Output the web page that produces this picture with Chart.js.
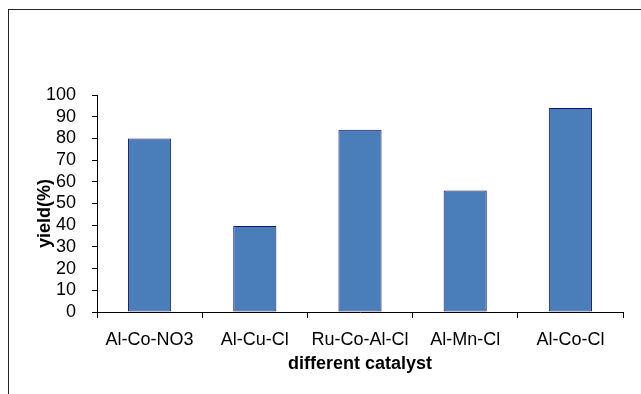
<!DOCTYPE html>
<html>
<head>
<meta charset="utf-8">
<script src="https://cdn.jsdelivr.net/npm/chart.js@4"></script>
<style>
  html, body { margin: 0; padding: 0; background: #fff; }
  #wrap { position: relative; width: 641px; height: 394px; }
  #frame { position: absolute; left: 8px; top: 9px; right: -2px; bottom: -2px; border-top: 1px solid #222; border-left: 1px solid #222; pointer-events: none; }
  canvas { position: absolute; left: 0; top: 0; }
</style>
</head>
<body>
<div id="wrap">
  <canvas id="c" width="641" height="394"></canvas>
  <div id="frame"></div>
</div>
<script>
const categories = ["Al-Co-NO3", "Al-Cu-Cl", "Ru-Co-Al-Cl", "Al-Mn-Cl", "Al-Co-Cl"];
const yieldValues = [80, 39.6, 84, 56, 94];
const yTicks = [0, 10, 20, 30, 40, 50, 60, 70, 80, 90, 100];
const xTitle = "different catalyst";
const yTitle = "yield(%)";

const FONT = "'Liberation Sans', Arial, sans-serif";

new Chart(document.getElementById('c'), {
  type: 'bar',
  data: {
    labels: categories,
    datasets: [{
      data: yieldValues,
      backgroundColor: '#4a7ebb',
      borderColor: '#14146e',
      borderWidth: 1,
      borderSkipped: false,
      barPercentage: 0.41,
      categoryPercentage: 1.0
    }]
  },
  options: {
    responsive: false,
    animation: false,
    devicePixelRatio: 1,
    layout: { padding: { top: 95, right: 18, left: 0, bottom: 0 } },
    plugins: { legend: { display: false }, tooltip: { enabled: false } },
    scales: {
      x: {
        grid: { display: true, drawOnChartArea: false, drawTicks: true, tickLength: 6, color: '#000', offset: true },
        border: { display: true, color: '#000', width: 1 },
        ticks: { color: '#000', font: { family: FONT, size: 18 }, padding: 11, maxRotation: 0, autoSkip: false },
        title: { display: true, text: xTitle, color: '#000', font: { family: FONT, size: 18, weight: 'bold' }, padding: { top: 0, bottom: 19 } },
        afterFit(scale) { scale.height = 82; }
      },
      y: {
        min: 0, max: 100,
        afterBuildTicks(scale) { scale.ticks = yTicks.map(v => ({ value: v })); },
        grid: { display: true, drawOnChartArea: false, drawTicks: true, tickLength: 5, color: '#000' },
        border: { display: true, color: '#000', width: 1 },
        ticks: { color: '#000', font: { family: FONT, size: 18 }, padding: 16, autoSkip: false },
        title: { display: true, text: yTitle + "    ", color: '#000', font: { family: FONT, size: 18, weight: 'bold' }, padding: { top: 34, bottom: 0 } },
        afterFit(scale) { scale.width = 97; }
      }
    }
  }
});
</script>
</body>
</html>
